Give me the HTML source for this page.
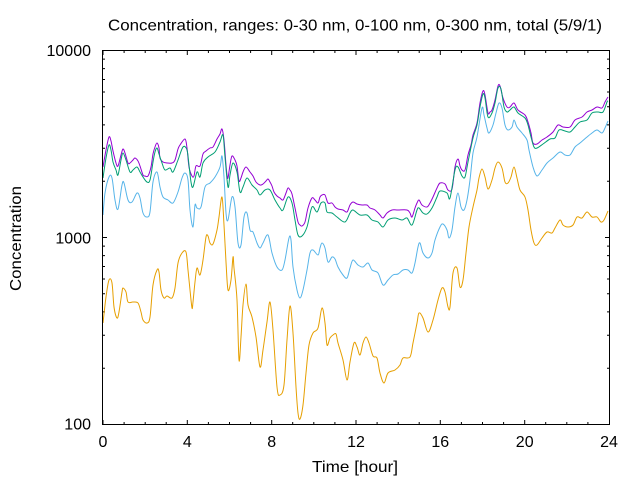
<!DOCTYPE html>
<html>
<head>
<meta charset="utf-8">
<style>
  html, body { margin: 0; padding: 0; background: #ffffff; }
  svg { display: block; }
  text { font-family: "Liberation Sans", "DejaVu Sans", sans-serif; fill: #000; }
</style>
</head>
<body>
<svg id="chart" width="640" height="480" viewBox="0 0 640 480" xmlns="http://www.w3.org/2000/svg">
  <rect x="0" y="0" width="640" height="480" fill="#ffffff"/>

  <!-- Title -->
  <text x="108" y="30.5" font-size="16" textLength="494" lengthAdjust="spacingAndGlyphs">Concentration, ranges: 0-30 nm, 0-100 nm, 0-300 nm, total (5/9/1)</text>

  <!-- Y tick labels -->
  <text x="91" y="56" font-size="16" text-anchor="end">10000</text>
  <text x="91" y="243.5" font-size="16" text-anchor="end">1000</text>
  <text x="91" y="429.5" font-size="16" text-anchor="end">100</text>

  <!-- X tick labels -->
  <text x="103" y="447" font-size="16" text-anchor="middle">0</text>
  <text x="187.3" y="447" font-size="16" text-anchor="middle">4</text>
  <text x="271.7" y="447" font-size="16" text-anchor="middle">8</text>
  <text x="356" y="447" font-size="16" text-anchor="middle">12</text>
  <text x="440.3" y="447" font-size="16" text-anchor="middle">16</text>
  <text x="524.7" y="447" font-size="16" text-anchor="middle">20</text>
  <text x="609" y="447" font-size="16" text-anchor="middle">24</text>

  <!-- Axis labels -->
  <text x="312" y="472" font-size="16" textLength="86" lengthAdjust="spacingAndGlyphs">Time [hour]</text>
  <text transform="translate(21,291) rotate(-90)" x="0" y="0" font-size="16" textLength="105" lengthAdjust="spacingAndGlyphs">Concentration</text>

  <!-- Ticks -->
  <g stroke="#000" stroke-width="1" fill="none">
    <path d="M103,424.5v-4.5 M187.3,424.5v-4.5 M271.7,424.5v-4.5 M356,424.5v-4.5 M440.3,424.5v-4.5 M524.7,424.5v-4.5
             M103,50.5v4.5 M187.3,50.5v4.5 M271.7,50.5v4.5 M356,50.5v4.5 M440.3,50.5v4.5 M524.7,50.5v4.5"/>
    <path d="M124.1,424.5v-2.5 M145.2,424.5v-2.5 M166.2,424.5v-2.5 M208.4,424.5v-2.5 M229.5,424.5v-2.5 M250.6,424.5v-2.5
             M292.7,424.5v-2.5 M313.8,424.5v-2.5 M334.9,424.5v-2.5 M377.1,424.5v-2.5 M398.2,424.5v-2.5 M419.2,424.5v-2.5
             M461.4,424.5v-2.5 M482.5,424.5v-2.5 M503.6,424.5v-2.5 M545.7,424.5v-2.5 M566.8,424.5v-2.5 M587.9,424.5v-2.5
             M124.1,50.5v2.5 M145.2,50.5v2.5 M166.2,50.5v2.5 M208.4,50.5v2.5 M229.5,50.5v2.5 M250.6,50.5v2.5
             M292.7,50.5v2.5 M313.8,50.5v2.5 M334.9,50.5v2.5 M377.1,50.5v2.5 M398.2,50.5v2.5 M419.2,50.5v2.5
             M461.4,50.5v2.5 M482.5,50.5v2.5 M503.6,50.5v2.5 M545.7,50.5v2.5 M566.8,50.5v2.5 M587.9,50.5v2.5"/>
    <path d="M102.5,237.5h4.5 M609.5,237.5h-4.5"/>
    <path d="M102.5,368.2h2.5 M102.5,335.3h2.5 M102.5,311.9h2.5 M102.5,293.8h2.5 M102.5,279h2.5 M102.5,266.5h2.5 M102.5,255.6h2.5 M102.5,246.1h2.5
             M609.5,368.2h-2.5 M609.5,335.3h-2.5 M609.5,311.9h-2.5 M609.5,293.8h-2.5 M609.5,279h-2.5 M609.5,266.5h-2.5 M609.5,255.6h-2.5 M609.5,246.1h-2.5"/>
    <path d="M102.5,181.2h2.5 M102.5,148.3h2.5 M102.5,124.9h2.5 M102.5,106.8h2.5 M102.5,92h2.5 M102.5,79.5h2.5 M102.5,68.6h2.5 M102.5,59.1h2.5
             M609.5,181.2h-2.5 M609.5,148.3h-2.5 M609.5,124.9h-2.5 M609.5,106.8h-2.5 M609.5,92h-2.5 M609.5,79.5h-2.5 M609.5,68.6h-2.5 M609.5,59.1h-2.5"/>
  </g>

  <!-- Series -->
  <g id="series" fill="none" stroke-width="1" stroke-linejoin="round">
    <polyline stroke="#9400d3" points="103,167 106,150 109,137 111,141 113,151 116,163 118,166 121,155 123,149 125,153 128,163 130,163 133,160 135,158 138,161 140,166 143,175 145,176 148,176 151,167 153,154 155,147 157,143 159,148 160,158 163,162 167,163 172,163 175,160 178,149 180,145 185,139 187,148 189,167 192,176 194,176 196,166 200,166 203,154 206,151 210,148 213,147 217,139 220,134 222,129 224,140 226,165 227,175 228,178 230,165 232,156 235,160 237,166 239,181 241,178 243,172 246,167 250,172 253,176 256,182 260,185 263,184 266,181 268,179 270,182 272,186 274,192 277,196 280,198 283,200 286,193 288,188 290,190 292,194 295,208 298,222 300,225 302,226 305,222 308,208 312,198 315,200 318,203 320,197 322,195 325,195 328,203 332,203 335,207 338,209 343,210 347,212 350,205 353,202 357,204 362,205 367,205 370,208 375,210 380,215 383,218 387,213 392,210 398,210 407,210 410,213 412,217 415,208 417,203 419,200 422,205 427,207 430,203 433,197 437,188 440,183 445,184 448,190 452,189 455,167 458,159 460,166 462,170 465,170 468,155 471,145 473,135 477,123 480,103 483,91 485,95 488,113 490,112 492,110 495,100 498,86 500,86 503,98 507,107 510,107 514,103 518,110 525,115 528,122 531,133 533,143 537,144 542,140 547,137 553,132 558,125 563,127 570,127 575,120 582,117 587,112 592,110 597,107 602,108 605,102 608,97"/>
    <polyline stroke="#009e73" points="103,178 106,158 109,145 111,150 113,162 116,170 118,175 121,160 123,153 126,160 130,172 133,170 137,167 140,172 143,177 147,182 150,180 153,162 155,152 157,148 159,154 162,163 165,170 170,168 173,172 178,160 183,147 187,150 189,165 191,182 193,187 197,172 200,177 203,163 208,157 215,152 220,142 223,135 225,157 228,187 230,175 233,163 237,172 240,192 243,187 247,178 252,185 257,190 260,195 265,190 270,190 275,200 280,208 283,210 288,197 292,203 295,220 298,235 302,236 307,227 312,207 317,212 321,203 325,203 327,212 332,213 337,217 345,222 350,213 353,210 360,215 367,215 372,220 378,222 383,227 388,220 395,218 402,220 407,218 412,225 417,210 419,208 423,213 427,214 432,208 437,197 440,191 447,193 450,198 455,170 458,167 462,176 465,177 468,162 473,138 477,125 480,107 483,94 485,98 488,117 492,113 495,103 498,88 501,89 504,107 507,112 510,110 514,107 518,113 525,118 528,125 531,137 534,147 537,148 543,144 550,139 555,138 559,130 565,131 570,132 575,127 580,122 587,120 592,113 598,112 603,112 607,102 608,101"/>
    <polyline stroke="#56b4e9" points="103,215 105,193 109,177 112,178 115,200 118,209 122,185 124,183 128,200 132,202 137,193 140,198 143,213 147,217 150,212 153,182 157,172 160,187 163,197 168,200 173,203 178,192 182,178 185,173 188,180 190,210 193,227 195,205 197,208 201,207 205,187 210,183 215,177 220,167 222,156 224,177 226,213 228,220 232,197 235,207 238,243 241,245 244,217 247,213 250,230 253,232 257,243 260,248 263,243 268,235 272,253 277,267 282,270 285,260 289,238 291,240 293,267 297,290 300,298 303,290 307,270 310,253 313,250 318,255 320,248 322,243 325,248 328,262 332,257 335,259 338,267 343,275 347,278 350,268 353,260 358,265 363,267 368,263 372,270 378,273 383,285 388,280 393,275 398,274 403,270 408,270 412,273 415,263 418,247 420,243 423,253 428,258 432,253 435,240 440,227 443,224 447,230 449,238 452,230 455,207 458,193 461,207 464,210 467,200 470,180 473,153 477,137 482,108 484,115 487,128 489,133 493,125 496,113 499,103 502,108 505,125 508,130 512,127 514,120 517,127 522,133 527,140 529,150 533,167 537,176 542,170 547,163 553,158 560,152 565,155 570,155 575,147 580,143 587,137 592,133 597,130 602,133 605,128 608,121"/>
    <polyline stroke="#e69f00" points="103,323 106,297 109,280 112,283 114,307 117,318 119,312 122,292 123,288 126,292 128,302 133,302 138,303 141,312 143,320 147,323 150,317 153,285 157,270 159,272 161,290 164,298 167,296 172,298 175,288 178,263 182,253 186,252 188,270 190,290 192,308 193,302 195,282 197,268 200,275 203,260 206,237 208,236 210,243 213,244 217,230 219,217 222,197 224,225 226,262 228,290 231,280 233,257 234,268 237,300 239,360 241,337 243,305 246,284 248,305 252,317 256,337 260,367 263,350 267,322 270,302 273,330 277,387 280,395 284,385 287,340 290,306 293,333 296,387 298,413 300,419 303,405 306,373 309,345 313,333 318,328 322,308 325,323 327,345 330,338 333,335 336,334 338,343 343,360 347,380 350,362 354,343 357,347 360,355 363,343 366,337 369,343 373,356 377,358 380,373 384,383 388,373 395,370 400,365 403,358 410,357 413,343 417,323 419,313 423,318 428,332 433,320 438,300 442,288 445,292 448,307 450,307 453,273 457,268 460,287 463,280 466,253 469,227 473,207 477,190 479,178 482,169 485,177 488,189 492,180 495,168 498,162 502,168 505,182 508,183 511,177 514,167 517,178 520,190 525,197 528,210 531,230 534,243 537,245 542,238 547,232 552,233 555,228 560,220 563,225 568,227 573,225 577,217 582,218 587,212 592,217 597,217 601,222 604,220 608,211"/>
  </g>

  <!-- Border -->
  <rect x="102.5" y="50.5" width="507" height="374" fill="none" stroke="#000" stroke-width="1"/>
</svg>
<script>
(function(){
  try {
    var NS = "http://www.w3.org/2000/svg";
    var g = document.getElementById("series");
    var pls = g.getElementsByTagName("polyline");
    var list = [];
    for (var i = 0; i < pls.length; i++) list.push(pls[i]);
    list.forEach(function(pl){
      var raw = pl.getAttribute("points").trim().split(/\s+/).map(function(s){
        var a = s.split(","); return [parseFloat(a[0]), parseFloat(a[1])];
      });
      var n = raw.length;
      if (n < 3) return;
      var d = "M" + raw[0][0] + "," + raw[0][1];
      var t = 1/6;
      for (var k = 0; k < n - 1; k++) {
        var p0 = raw[k > 0 ? k - 1 : k], p1 = raw[k], p2 = raw[k + 1], p3 = raw[k + 2 < n ? k + 2 : k + 1];
        var c1x = p1[0] + (p2[0] - p0[0]) * t, c1y = p1[1] + (p2[1] - p0[1]) * t;
        var c2x = p2[0] - (p3[0] - p1[0]) * t, c2y = p2[1] - (p3[1] - p1[1]) * t;
        // keep control x within segment to avoid backtracking
        if (c1x < p1[0]) c1x = p1[0]; if (c1x > p2[0]) c1x = p2[0];
        if (c2x < p1[0]) c2x = p1[0]; if (c2x > p2[0]) c2x = p2[0];
        d += " C" + c1x.toFixed(2) + "," + c1y.toFixed(2) + " " + c2x.toFixed(2) + "," + c2y.toFixed(2) + " " + p2[0] + "," + p2[1];
      }
      var path = document.createElementNS(NS, "path");
      path.setAttribute("d", d);
      path.setAttribute("stroke", pl.getAttribute("stroke"));
      path.setAttribute("fill", "none");
      g.replaceChild(path, pl);
    });
  } catch (e) {}
})();
</script>
</body>
</html>
